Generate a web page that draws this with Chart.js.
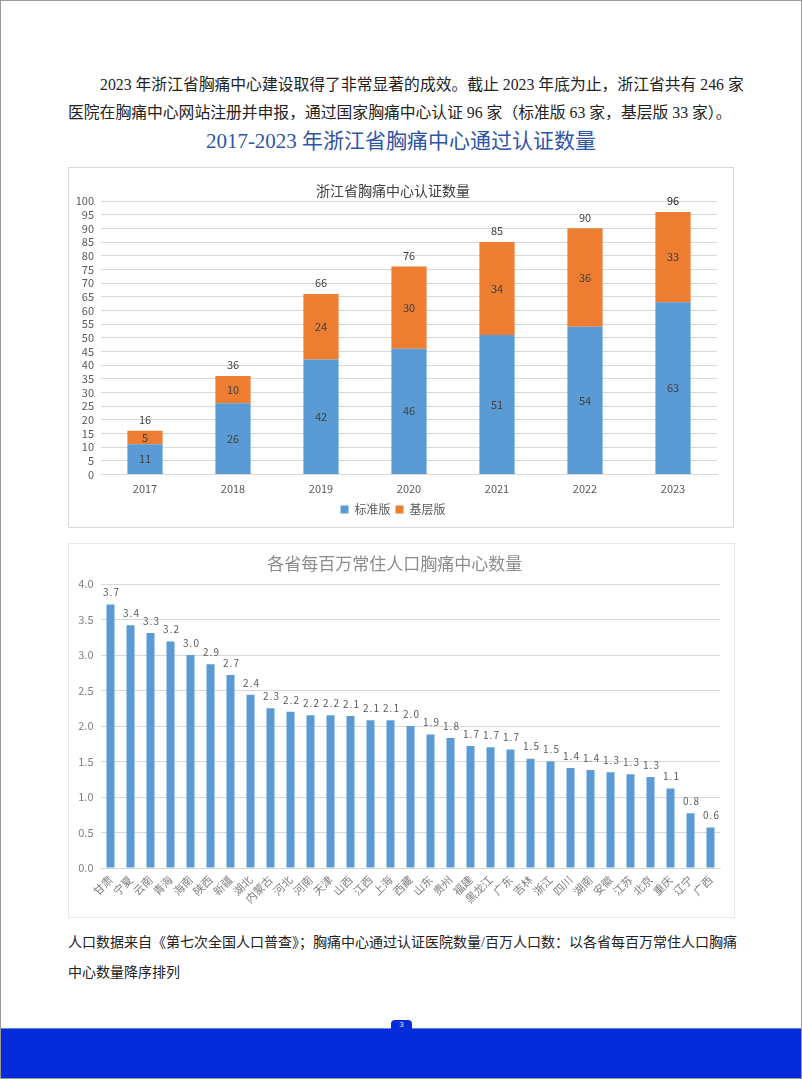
<!DOCTYPE html>
<html><head><meta charset="utf-8">
<script src="https://cdn.jsdelivr.net/npm/chart.js@4.4.1/dist/chart.umd.min.js"></script>
<style>
html,body{margin:0;padding:0;background:#fff;}
#page{position:relative;width:802px;height:1079px;overflow:hidden;background:#fff;}
#frame{position:absolute;left:0;top:0;width:802px;height:1079px;box-sizing:border-box;border:1px solid #9a9a9a;pointer-events:none;z-index:5;}
.t{position:absolute;white-space:nowrap;font-family:'Liberation Serif','Noto Sans CJK SC',serif;color:#222;line-height:1;}
.box{position:absolute;box-sizing:border-box;background:#fff;}
.box canvas{display:block;}
#footer{position:absolute;left:0;top:1028px;width:802px;height:51px;background:#062cd9;border-top:1px solid #5a86e8;box-sizing:border-box;}
#tab{position:absolute;left:391px;top:1020px;width:21px;height:10px;background:#062cd9;border-radius:4px 4px 0 0;color:#dfe6ff;font:8px 'Liberation Sans',sans-serif;text-align:center;line-height:10px;z-index:2;}
</style></head>
<body>
<div id="page">
  <div class="t" style="left:100px;top:77px;font-size:15.8px;">2023 年浙江省胸痛中心建设取得了非常显著的成效。截止 2023 年底为止，浙江省共有 246 家</div>
  <div class="t" style="left:68px;top:105px;font-size:15.8px;">医院在胸痛中心网站注册并申报，通过国家胸痛中心认证 96 家（标准版 63 家，基层版 33 家）。</div>
  <div class="t" style="left:0;width:802px;text-align:center;top:131px;font-size:21px;color:#2f56a6;">2017-2023 年浙江省胸痛中心通过认证数量</div>

  <div class="box" style="left:68px;top:167px;width:666px;height:361px;border:1px solid #d9d9d9;">
    <div style="position:relative;width:664px;height:359px;"><canvas id="c1"></canvas></div>
  </div>

  <div class="box" style="left:68px;top:543px;width:667px;height:375px;border:1px solid #e8e8e8;">
    <div style="position:relative;width:665px;height:373px;"><canvas id="c2"></canvas></div>
  </div>

  <div class="t" style="left:68px;top:936px;font-size:14px;">人口数据来自《第七次全国人口普查》；胸痛中心通过认证医院数量/百万人口数：以各省每百万常住人口胸痛</div>
  <div class="t" style="left:68px;top:966px;font-size:14px;">中心数量降序排列</div>

  <div id="tab">3</div>
  <div id="footer"></div>
  <div id="frame"></div>
</div>
<script>
// ---- Chart 1 data ----
const years = ['2017','2018','2019','2020','2021','2022','2023'];
const standardCounts = [11, 26, 42, 46, 51, 54, 63];
const basicCounts = [5, 10, 24, 30, 34, 36, 33];
const yearTotals = [16, 36, 66, 76, 85, 90, 96];
const countTicks = [0,5,10,15,20,25,30,35,40,45,50,55,60,65,70,75,80,85,90,95,100];

// ---- Chart 2 data ----
const provinces = ['甘肃','宁夏','云南','青海','海南','陕西','新疆','湖北','内蒙古','河北','河南','天津','山西','江西','上海','西藏','山东','贵州','福建','黑龙江','广东','吉林','浙江','四川','湖南','安徽','江苏','北京','重庆','辽宁','广西'];
const centersPerMillion = [3.71,3.42,3.31,3.19,3.00,2.87,2.72,2.44,2.25,2.20,2.15,2.15,2.14,2.08,2.08,2.00,1.88,1.83,1.72,1.70,1.67,1.54,1.50,1.41,1.38,1.35,1.32,1.28,1.12,0.77,0.57];
const densityLabels = ['3.7','3.4','3.3','3.2','3.0','2.9','2.7','2.4','2.3','2.2','2.2','2.2','2.1','2.1','2.1','2.0','1.9','1.8','1.7','1.7','1.7','1.5','1.5','1.4','1.4','1.3','1.3','1.3','1.1','0.8','0.6'];
const densityTicks = [0,0.5,1,1.5,2,2.5,3,3.5,4];

const FONT = "'Noto Sans CJK SC','Liberation Sans',sans-serif";

const stackLabels = {
  id: 'stackLabels',
  afterDatasetsDraw(chart) {
    const ctx = chart.ctx;
    ctx.save();
    ctx.font = '11px ' + FONT;
    ctx.textAlign = 'center';
    ctx.textBaseline = 'middle';
    ctx.fillStyle = '#404040';
    chart.data.datasets.forEach((ds, i) => {
      chart.getDatasetMeta(i).data.forEach((bar, j) => {
        const p = bar.getProps(['x','y','base'], true);
        ctx.fillText(String(ds.data[j]), p.x, (p.y + p.base) / 2);
      });
    });
    const top = chart.getDatasetMeta(1).data;
    top.forEach((bar, j) => {
      const p = bar.getProps(['x','y'], true);
      ctx.fillStyle = j === top.length - 1 ? '#111' : '#404040';
      ctx.fillText(String(yearTotals[j]), p.x, p.y - 11);
    });
    ctx.restore();
  }
};

new Chart(document.getElementById('c1'), {
  type: 'bar',
  data: {
    labels: years,
    datasets: [
      { label: '标准版', data: standardCounts, backgroundColor: '#5b9bd5', barPercentage: 0.4, categoryPercentage: 1 },
      { label: '基层版', data: basicCounts, backgroundColor: '#ed7d31', barPercentage: 0.4, categoryPercentage: 1 }
    ]
  },
  options: {
    responsive: true, maintainAspectRatio: false, animation: false,
    layout: { padding: { top: 0, right: 16, bottom: 1.6, left: 0 } },
    plugins: {
      title: { display: true, text: '浙江省胸痛中心认证数量', color: '#404040', font: { family: FONT, size: 14, weight: 'normal' }, padding: { top: 14, bottom: 2.2 } },
      legend: { position: 'bottom', labels: { boxWidth: 8, boxHeight: 8, padding: 5, color: '#595959', font: { family: FONT, size: 12 } } },
      tooltip: { enabled: false }
    },
    scales: {
      x: {
        stacked: true,
        grid: { display: false, drawTicks: false },
        border: { display: true, color: '#d9d9d9' },
        ticks: { color: '#595959', font: { family: FONT, size: 11 }, padding: 8 },
        afterFit(s) { s.height = 24; }
      },
      y: {
        stacked: true, min: 0, max: 100,
        afterBuildTicks(s) { s.ticks = countTicks.map(v => ({ value: v })); },
        grid: { color: '#d9d9d9', drawTicks: false },
        border: { display: false },
        ticks: { color: '#595959', font: { family: FONT, size: 11 }, padding: 7, autoSkip: false },
        afterFit(s) { s.width = 32; }
      }
    }
  },
  plugins: [stackLabels]
});

const topLabels = {
  id: 'topLabels',
  afterDatasetsDraw(chart) {
    const ctx = chart.ctx;
    ctx.save();
    ctx.font = '10px ' + FONT;
    if ('letterSpacing' in ctx) ctx.letterSpacing = '1px';
    ctx.textAlign = 'center';
    ctx.textBaseline = 'middle';
    ctx.fillStyle = '#595959';
    chart.getDatasetMeta(0).data.forEach((bar, j) => {
      const p = bar.getProps(['x','y'], true);
      ctx.fillText(densityLabels[j], p.x + 1, p.y - 12);
    });
    ctx.restore();
  }
};

new Chart(document.getElementById('c2'), {
  type: 'bar',
  data: {
    labels: provinces,
    datasets: [{ label: '每百万常住人口胸痛中心数量', data: centersPerMillion, backgroundColor: '#5b9bd5', barPercentage: 0.4, categoryPercentage: 1 }]
  },
  options: {
    responsive: true, maintainAspectRatio: false, animation: false,
    layout: { padding: { top: 0, right: 13.5, bottom: 0, left: 0 } },
    plugins: {
      title: { display: true, text: '各省每百万常住人口胸痛中心数量', color: '#8c8c8c', font: { family: FONT, size: 17, weight: 'normal' }, padding: { top: 9, bottom: 10.6 } },
      legend: { display: false },
      tooltip: { enabled: false }
    },
    scales: {
      x: {
        grid: { display: false, drawTicks: false },
        border: { display: true, color: '#d9d9d9' },
        ticks: { color: '#7f7f7f', font: { family: FONT, size: 11 }, minRotation: 45, maxRotation: 45, autoSkip: false, padding: 5 },
        afterFit(s) { s.height = 49; }
      },
      y: {
        min: 0, max: 4,
        afterBuildTicks(s) { s.ticks = densityTicks.map(v => ({ value: v })); },
        grid: { color: '#d9d9d9', drawTicks: false },
        border: { display: false },
        ticks: { color: '#7f7f7f', font: { family: FONT, size: 11 }, padding: 7, autoSkip: false, callback: v => Number(v).toFixed(1) },
        afterFit(s) { s.width = 31.5; }
      }
    }
  },
  plugins: [topLabels]
});
</script>
</body></html>
